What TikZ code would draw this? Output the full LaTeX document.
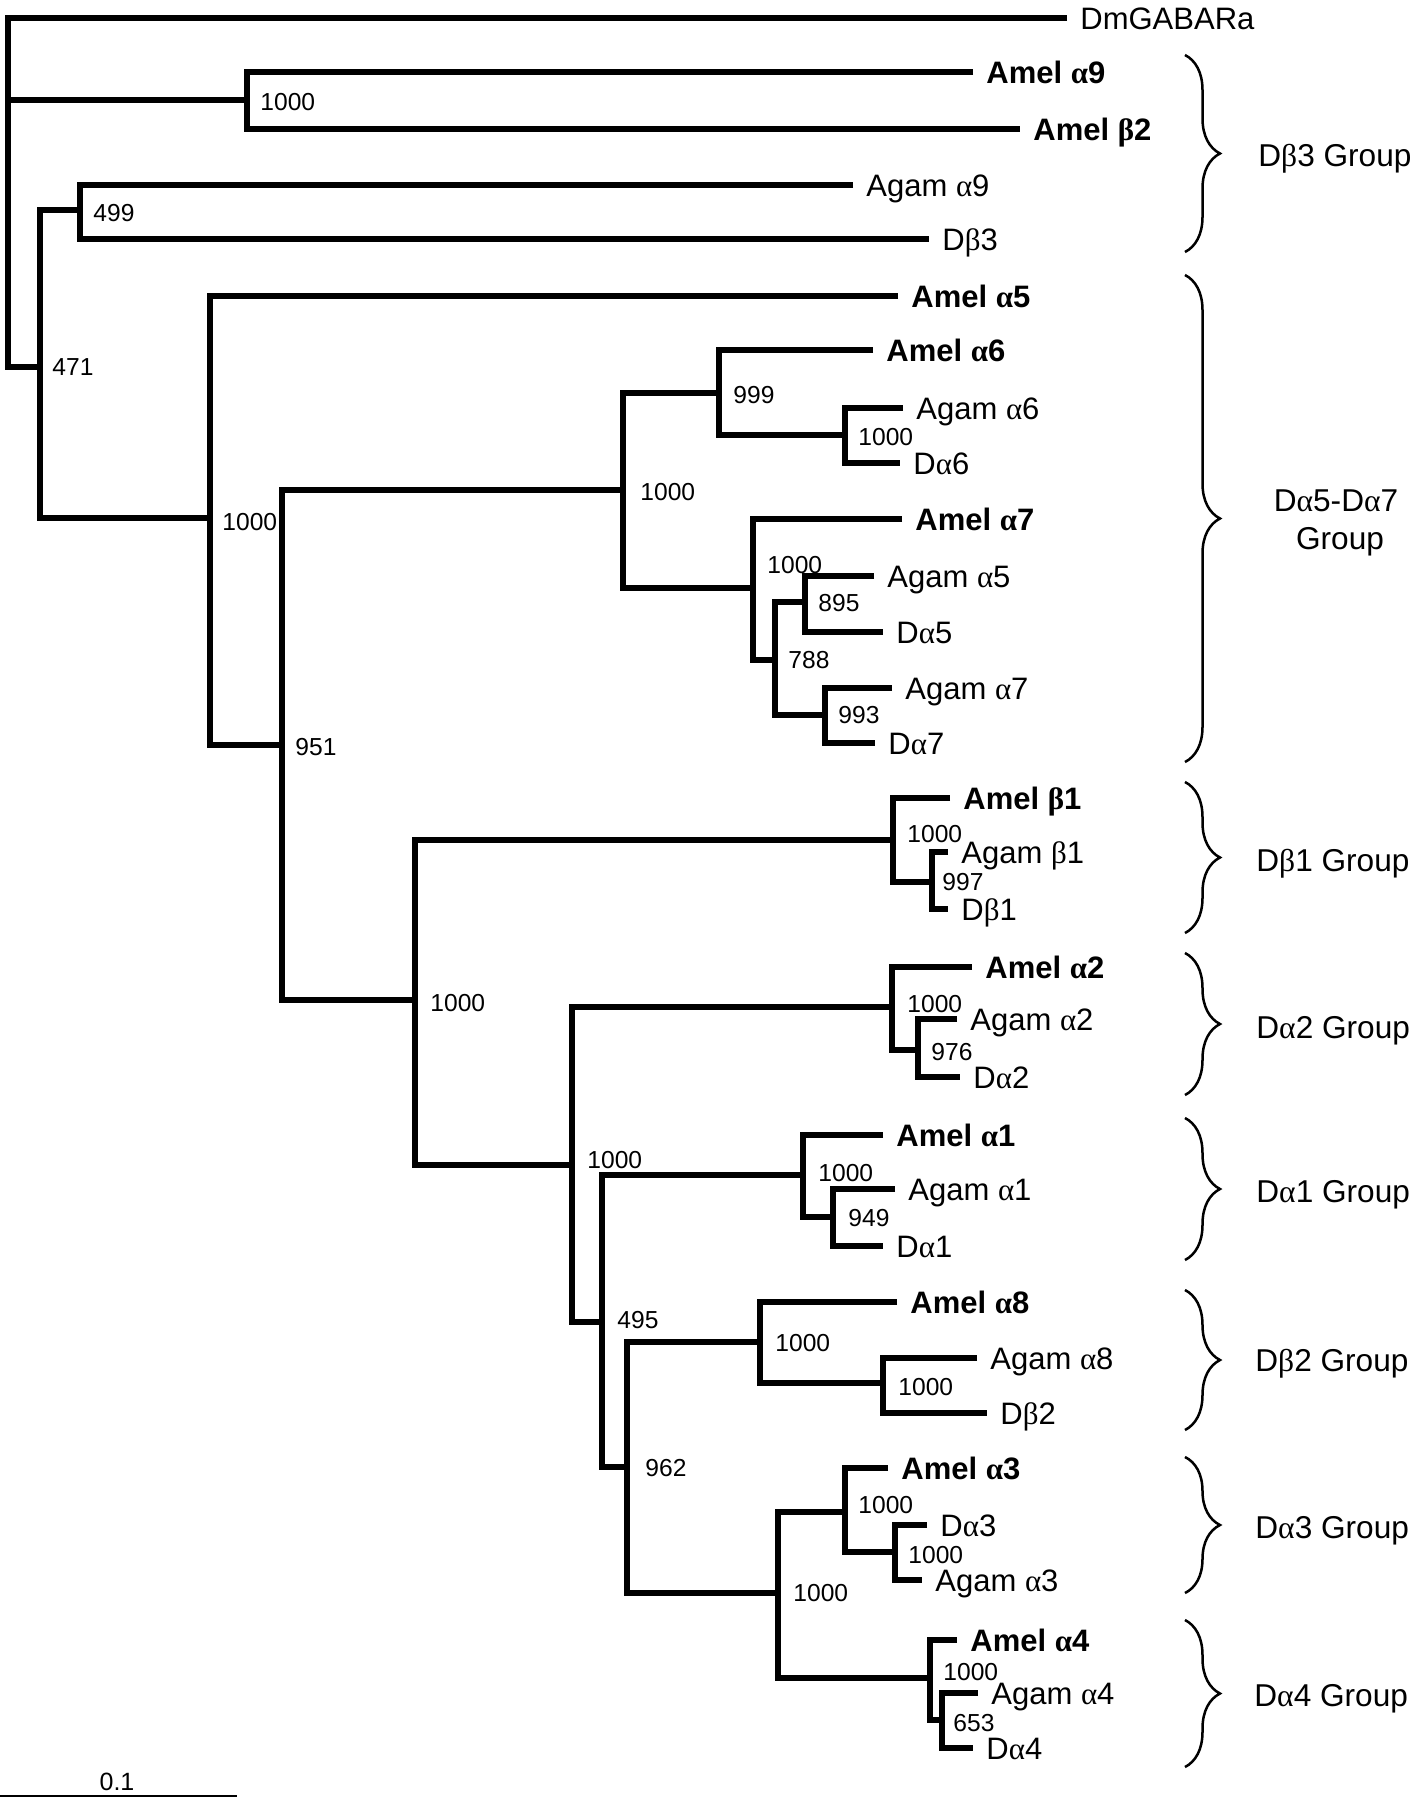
\documentclass[tikz,border=0pt]{standalone}
\usepackage{fontspec}
\setmainfont{Liberation Sans}
\newfontfamily\grkfont{Liberation Serif}
\usetikzlibrary{decorations.pathreplacing}
\newcommand\myal{{\grkfont α}}
\newcommand\mybe{{\grkfont β}}
\begin{document}
\begin{tikzpicture}[x=0.5pt,y=-0.5pt,
 br/.style={line width=2.8pt, line join=miter},
 leaf/.style={anchor=west, inner sep=0pt, font=\fontsize{15.5}{18}\selectfont, text height=11pt, text depth=0pt, xshift=6.5pt},
 leafb/.style={leaf, font=\fontsize{15.5}{18}\selectfont\bfseries},
 bs/.style={anchor=west, inner sep=0pt, font=\fontsize{12.3}{14}\selectfont, text height=8.8pt, text depth=0pt},
 grp/.style={anchor=west, inner sep=0pt, font=\fontsize{15.8}{18}\selectfont, text height=11.3pt, text depth=0pt},
 grpc/.style={grp, anchor=center},
 gbrace/.style={line width=1.25pt, decorate, decoration={brace, amplitude=17.5pt}}]
\useasboundingbox (0,0) rectangle (1412,1800);
% ---------- coordinates ----------
\coordinate (root) at (8,200);
\coordinate (tDm) at (1067,18);
\coordinate (nA) at (247,100);
\coordinate (tAm9) at (973,72);
\coordinate (tAmb2) at (1020,129);
\coordinate (n471) at (40,367);
\coordinate (n499) at (80,210);
\coordinate (tAg9) at (853,185);
\coordinate (tDb3) at (929,239);
\coordinate (nK) at (210,518);
\coordinate (tAm5) at (898,296);
\coordinate (n951) at (282,745);
\coordinate (nL) at (623,490);
\coordinate (n999) at (719,393);
\coordinate (tAm6) at (873,350);
\coordinate (nM) at (845,435);
\coordinate (tAg6) at (903,408);
\coordinate (tDa6) at (900,463);
\coordinate (nN) at (753,588);
\coordinate (tAm7) at (902,519);
\coordinate (n788) at (775,660);
\coordinate (n895) at (805,602);
\coordinate (tAg5) at (874,576);
\coordinate (tDa5) at (883,632);
\coordinate (n993) at (825,715);
\coordinate (tAg7) at (892,688);
\coordinate (tDa7) at (875,743);
\coordinate (nP) at (415,1000);
\coordinate (nB1) at (893,840);
\coordinate (tAmb1) at (950,798);
\coordinate (n997) at (932,882);
\coordinate (tAgb1) at (948,852);
\coordinate (tDb1) at (948,909);
\coordinate (nQ) at (572,1165);
\coordinate (nA2) at (892,1007);
\coordinate (tAm2) at (972,967);
\coordinate (n976) at (918,1050);
\coordinate (tAg2) at (957,1019);
\coordinate (tDa2) at (960,1077);
\coordinate (n495) at (602,1322);
\coordinate (nA1) at (803,1175);
\coordinate (tAm1) at (883,1135);
\coordinate (n949) at (833,1217);
\coordinate (tAg1) at (895,1189);
\coordinate (tDa1) at (883,1246);
\coordinate (n962) at (627,1467);
\coordinate (nA8) at (760,1342);
\coordinate (tAm8) at (897,1302);
\coordinate (nR) at (883,1383);
\coordinate (tAg8) at (977,1358);
\coordinate (tDb2) at (987,1413);
\coordinate (nS) at (778,1593);
\coordinate (nA3) at (845,1512);
\coordinate (tAm3) at (888,1468);
\coordinate (nT) at (895,1552);
\coordinate (tDa3) at (927,1525);
\coordinate (tAg3) at (922,1580);
\coordinate (nA4) at (930,1678);
\coordinate (tAm4) at (957,1640);
\coordinate (n653) at (942,1720);
\coordinate (tAg4) at (978,1693);
\coordinate (tDa4) at (973,1748);
% ---------- branches ----------
\draw[br] (tDm) -| (root |- n471) -- (n471);
\draw[br] (root |- nA) -- (nA);
\draw[br] (tAm9) -| (nA |- tAmb2) -- (tAmb2);
\draw[br] (n499) -| (n471 |- nK) -- (nK);
\draw[br] (tAg9) -| (n499 |- tDb3) -- (tDb3);
\draw[br] (tAm5) -| (nK |- n951) -- (n951);
\draw[br] (nL) -| (n951 |- nP) -- (nP);
\draw[br] (n999) -| (nL |- nN) -- (nN);
\draw[br] (tAm6) -| (n999 |- nM) -- (nM);
\draw[br] (tAg6) -| (nM |- tDa6) -- (tDa6);
\draw[br] (tAm7) -| (nN |- n788) -- (n788);
\draw[br] (n895) -| (n788 |- n993) -- (n993);
\draw[br] (tAg5) -| (n895 |- tDa5) -- (tDa5);
\draw[br] (tAg7) -| (n993 |- tDa7) -- (tDa7);
\draw[br] (nB1) -| (nP |- nQ) -- (nQ);
\draw[br] (tAmb1) -| (nB1 |- n997) -- (n997);
\draw[br] (tAgb1) -| (n997 |- tDb1) -- (tDb1);
\draw[br] (nA2) -| (nQ |- n495) -- (n495);
\draw[br] (tAm2) -| (nA2 |- n976) -- (n976);
\draw[br] (tAg2) -| (n976 |- tDa2) -- (tDa2);
\draw[br] (nA1) -| (n495 |- n962) -- (n962);
\draw[br] (tAm1) -| (nA1 |- n949) -- (n949);
\draw[br] (tAg1) -| (n949 |- tDa1) -- (tDa1);
\draw[br] (nA8) -| (n962 |- nS) -- (nS);
\draw[br] (tAm8) -| (nA8 |- nR) -- (nR);
\draw[br] (tAg8) -| (nR |- tDb2) -- (tDb2);
\draw[br] (nA3) -| (nS |- nA4) -- (nA4);
\draw[br] (tAm3) -| (nA3 |- nT) -- (nT);
\draw[br] (tDa3) -| (nT |- tAg3) -- (tAg3);
\draw[br] (tAm4) -| (nA4 |- n653) -- (n653);
\draw[br] (tAg4) -| (n653 |- tDa4) -- (tDa4);
% ---------- leaf labels ----------
\node[leaf] (lDm) at (tDm) {DmGABARa};
\node[leafb] (lAm9) at (tAm9) {Amel \myal9};
\node[leafb] (lAmb2) at (tAmb2) {Amel \mybe2};
\node[leaf] (lAg9) at (tAg9) {Agam \myal9};
\node[leaf] (lDb3) at (tDb3) {D\mybe3};
\node[leafb] (lAm5) at (tAm5) {Amel \myal5};
\node[leafb] (lAm6) at (tAm6) {Amel \myal6};
\node[leaf] (lAg6) at (tAg6) {Agam \myal6};
\node[leaf] (lDa6) at (tDa6) {D\myal6};
\node[leafb] (lAm7) at (tAm7) {Amel \myal7};
\node[leaf] (lAg5) at (tAg5) {Agam \myal5};
\node[leaf] (lDa5) at (tDa5) {D\myal5};
\node[leaf] (lAg7) at (tAg7) {Agam \myal7};
\node[leaf] (lDa7) at (tDa7) {D\myal7};
\node[leafb] (lAmb1) at (tAmb1) {Amel \mybe1};
\node[leaf] (lAgb1) at (tAgb1) {Agam \mybe1};
\node[leaf] (lDb1) at (tDb1) {D\mybe1};
\node[leafb] (lAm2) at (tAm2) {Amel \myal2};
\node[leaf] (lAg2) at (tAg2) {Agam \myal2};
\node[leaf] (lDa2) at (tDa2) {D\myal2};
\node[leafb] (lAm1) at (tAm1) {Amel \myal1};
\node[leaf] (lAg1) at (tAg1) {Agam \myal1};
\node[leaf] (lDa1) at (tDa1) {D\myal1};
\node[leafb] (lAm8) at (tAm8) {Amel \myal8};
\node[leaf] (lAg8) at (tAg8) {Agam \myal8};
\node[leaf] (lDb2) at (tDb2) {D\mybe2};
\node[leafb] (lAm3) at (tAm3) {Amel \myal3};
\node[leaf] (lDa3) at (tDa3) {D\myal3};
\node[leaf] (lAg3) at (tAg3) {Agam \myal3};
\node[leafb] (lAm4) at (tAm4) {Amel \myal4};
\node[leaf] (lAg4) at (tAg4) {Agam \myal4};
\node[leaf] (lDa4) at (tDa4) {D\myal4};
% ---------- bootstrap values ----------
\node[bs] (b01) at (260,102) {1000};
\node[bs] (b02) at (93,213) {499};
\node[bs] (b03) at (52,367) {471};
\node[bs] (b04) at (222,522) {1000};
\node[bs] (b05) at (295,747) {951};
\node[bs] (b06) at (640,492) {1000};
\node[bs] (b07) at (733,395) {999};
\node[bs] (b08) at (858,437) {1000};
\node[bs] (b09) at (767,565) {1000};
\node[bs] (b10) at (818,603) {895};
\node[bs] (b11) at (788,660) {788};
\node[bs] (b12) at (838,715) {993};
\node[bs] (b13) at (430,1003) {1000};
\node[bs] (b14) at (907,834) {1000};
\node[bs] (b15) at (942,882) {997};
\node[bs] (b16) at (587,1160) {1000};
\node[bs] (b17) at (907,1004) {1000};
\node[bs] (b18) at (931,1052) {976};
\node[bs] (b19) at (617,1320) {495};
\node[bs] (b20) at (818,1173) {1000};
\node[bs] (b21) at (848,1218) {949};
\node[bs] (b22) at (645,1468) {962};
\node[bs] (b23) at (775,1343) {1000};
\node[bs] (b24) at (898,1387) {1000};
\node[bs] (b25) at (793,1593) {1000};
\node[bs] (b26) at (858,1505) {1000};
\node[bs] (b27) at (908,1555) {1000};
\node[bs] (b28) at (943,1672) {1000};
\node[bs] (b29) at (953,1723) {653};
% ---------- group braces ----------
\coordinate (g1t) at (1185,55);   \coordinate (g1b) at (1185,252);
\coordinate (g2t) at (1185,275);  \coordinate (g2b) at (1185,762);
\coordinate (g3t) at (1185,782);  \coordinate (g3b) at (1185,933);
\coordinate (g4t) at (1185,953);  \coordinate (g4b) at (1185,1095);
\coordinate (g5t) at (1185,1118); \coordinate (g5b) at (1185,1260);
\coordinate (g6t) at (1185,1290); \coordinate (g6b) at (1185,1430);
\coordinate (g7t) at (1185,1457); \coordinate (g7b) at (1185,1593);
\coordinate (g8t) at (1185,1620); \coordinate (g8b) at (1185,1767);
\draw[gbrace] (g1t) -- (g1b);
\draw[gbrace] (g2t) -- (g2b);
\draw[gbrace] (g3t) -- (g3b);
\draw[gbrace] (g4t) -- (g4b);
\draw[gbrace] (g5t) -- (g5b);
\draw[gbrace] (g6t) -- (g6b);
\draw[gbrace] (g7t) -- (g7b);
\draw[gbrace] (g8t) -- (g8b);
\node[grp] (gl1) at (1258,155) {D\mybe3 Group};
\node[grpc] (gl2a) at (1336,500) {D\myal5-D\myal7};
\node[grpc] (gl2b) at (1340,538) {Group};
\node[grp] (gl3) at (1256,860) {D\mybe1 Group};
\node[grp] (gl4) at (1256,1027) {D\myal2 Group};
\node[grp] (gl5) at (1256,1191) {D\myal1 Group};
\node[grp] (gl6) at (1255,1360) {D\mybe2 Group};
\node[grp] (gl7) at (1255,1527) {D\myal3 Group};
\node[grp] (gl8) at (1254,1695) {D\myal4 Group};
% ---------- scale bar ----------
\coordinate (s0) at (0,1796);
\coordinate (s1) at (237,1796);
\draw[line width=1.3pt] (s0) -- (s1);
\node[bs, anchor=center, font=\fontsize{12.5}{14}\selectfont] (sl) at (117,1782) {0.1};
\end{tikzpicture}
\end{document}
